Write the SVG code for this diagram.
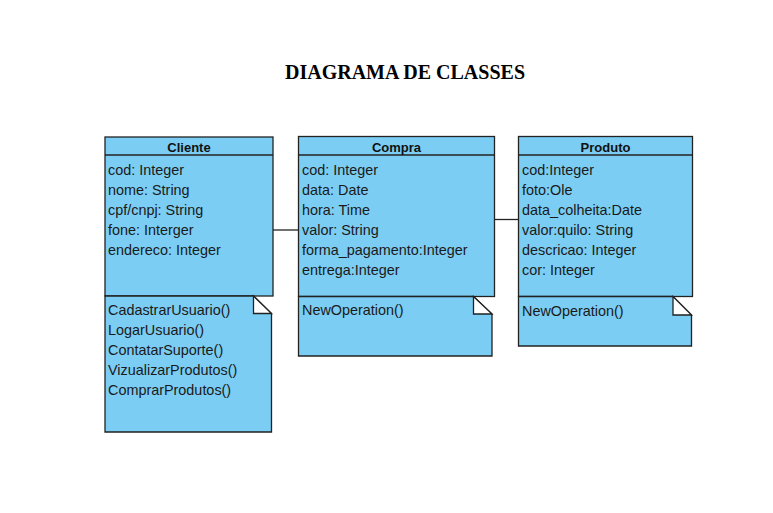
<svg xmlns="http://www.w3.org/2000/svg" width="773" height="513" viewBox="0 0 773 513">
<style>
.box{fill:#7BCDF3;stroke:#222;stroke-width:1.3}
.fold{fill:#fff;stroke:#222;stroke-width:1.3;stroke-linejoin:miter}
.ln{stroke:#222;stroke-width:1.3;fill:none}
.t{font-family:"Liberation Sans",Arial,sans-serif;font-size:14.4px;fill:#1a1a1a}
.h{font-family:"Liberation Sans",Arial,sans-serif;font-size:13px;font-weight:bold;fill:#111;text-anchor:middle}
.title{font-family:"Liberation Serif","Times New Roman",serif;font-size:20px;font-weight:bold;fill:#000;text-anchor:middle}
</style>
<rect width="773" height="513" fill="#fff"/>
<text class="title" x="405" y="79">DIAGRAMA DE CLASSES</text>
<g id="connectors">
<line class="ln" x1="273" y1="230" x2="298.5" y2="230"/>
<line class="ln" x1="494.5" y1="219.5" x2="518.5" y2="219.5"/>
</g>
<g id="cliente">
<rect class="box" x="105" y="137" width="168" height="159"/>
<line class="ln" x1="105" y1="155" x2="273" y2="155"/>
<text class="h" x="189" y="151.5">Cliente</text>
<text class="t" x="108" y="174.5">cod: Integer</text>
<text class="t" x="108" y="194.5">nome: String</text>
<text class="t" x="108" y="214.5">cpf/cnpj: String</text>
<text class="t" x="108" y="234.5">fone: Interger</text>
<text class="t" x="108" y="254.5">endereco: Integer</text>
<path class="box" d="M105,296 H253.5 L271.5,313.5 V432 H105 Z"/>
<path class="fold" d="M253.5,296 V313.5 H271.5 Z"/>
<text class="t" x="108" y="315">CadastrarUsuario()</text>
<text class="t" x="108" y="335">LogarUsuario()</text>
<text class="t" x="108" y="355">ContatarSuporte()</text>
<text class="t" x="108" y="375">VizualizarProdutos()</text>
<text class="t" x="108" y="395">ComprarProdutos()</text>
</g>
<g id="compra">
<rect class="box" x="298.5" y="136.5" width="196" height="160"/>
<line class="ln" x1="298.5" y1="155" x2="494.5" y2="155"/>
<text class="h" x="396.5" y="151.5">Compra</text>
<text class="t" x="302" y="174.5">cod: Integer</text>
<text class="t" x="302" y="194.5">data: Date</text>
<text class="t" x="302" y="214.5">hora: Time</text>
<text class="t" x="302" y="234.5">valor: String</text>
<text class="t" x="302" y="254.5">forma_pagamento:Integer</text>
<text class="t" x="302" y="274.5">entrega:Integer</text>
<path class="box" d="M298.5,296.5 H473.5 L492,314 V356 H298.5 Z"/>
<path class="fold" d="M473.5,296.5 V314 H492 Z"/>
<text class="t" x="302" y="315">NewOperation()</text>
</g>
<g id="produto">
<rect class="box" x="518.5" y="136.5" width="174" height="160"/>
<line class="ln" x1="518.5" y1="155" x2="692.5" y2="155"/>
<text class="h" x="605.5" y="151.5">Produto</text>
<text class="t" x="522" y="174.5">cod:Integer</text>
<text class="t" x="522" y="194.5">foto:Ole</text>
<text class="t" x="522" y="214.5">data_colheita:Date</text>
<text class="t" x="522" y="234.5">valor:quilo: String</text>
<text class="t" x="522" y="254.5">descricao: Integer</text>
<text class="t" x="522" y="274.5">cor: Integer</text>
<path class="box" d="M518.5,296.5 H673 L691.5,315 V346 H518.5 Z"/>
<path class="fold" d="M673,296.5 V315 H691.5 Z"/>
<text class="t" x="522" y="315.5">NewOperation()</text>
</g>
</svg>
